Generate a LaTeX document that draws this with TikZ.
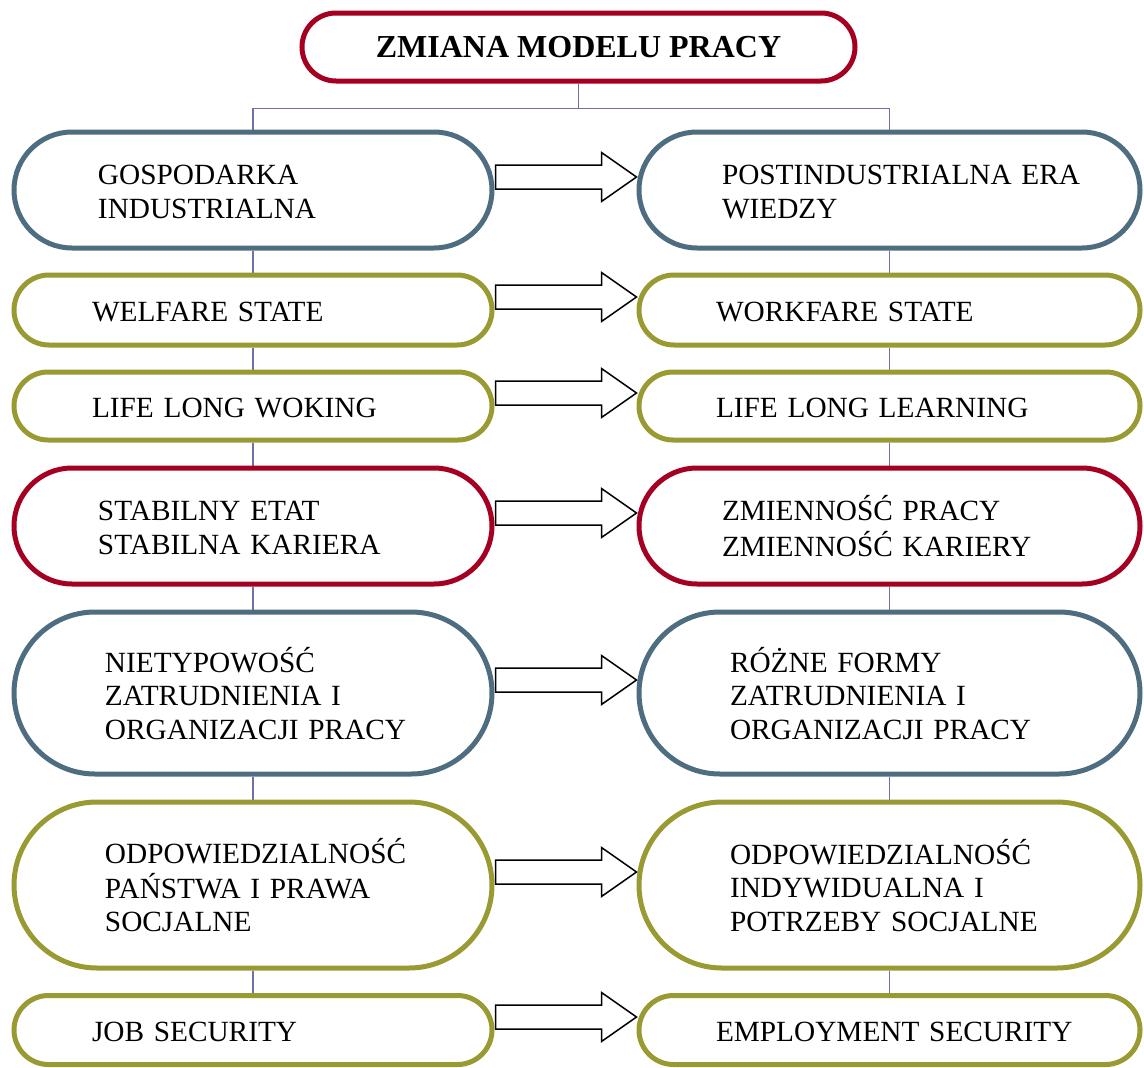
\documentclass[tikz,border=0pt]{standalone}
\usepackage{fontspec}
\setmainfont{Liberation Serif}
\usetikzlibrary{calc,backgrounds}
\definecolor{czerwony}{HTML}{A50021}
\definecolor{niebieski}{HTML}{4E6D80}
\definecolor{oliwka}{HTML}{9A9A33}
\definecolor{linia}{HTML}{6F6FAA}
\tikzset{
    pill/.style={draw, line width=5pt, fill=white, rounded corners=#1pt, minimum height=2*#1pt,
        inner xsep=0pt, inner ysep=0pt, align=left, font=\fontsize{29.3}{33.5}\selectfont},
    lewy/.style={text width=478pt},
    prawy/.style={text width=501pt},
    conn/.style={draw=linia, line width=1.5pt},
    blok/.style={draw=black, line width=1.5pt, fill=white, line join=miter},
}
\newcommand{\wciecie}[2]{\hspace*{#1pt}\raisebox{-5pt}[\height][\depth]{\begin{tabular}[c]{@{}l@{}}#2\end{tabular}}}
\begin{document}
\begin{tikzpicture}[x=1pt, y=-1pt]
\useasboundingbox (0,0) rectangle (1144,1068);
\node[pill=34, draw=czerwony, minimum width=553pt, align=center, font=\fontsize{32}{38}\selectfont\bfseries] (tytul) at (578.5,47) {ZMIANA MODELU PRACY};
% lewa kolumna
\node[pill=58, lewy, draw=niebieski] (l1) at (253,190) {\wciecie{84}{GOSPODARKA\\INDUSTRIALNA}};
\node[pill=35, lewy, draw=oliwka] (l2) at (253,310) {\wciecie{78}{WELFARE STATE}};
\node[pill=34, lewy, draw=oliwka] (l3) at (253,406) {\wciecie{78}{LIFE LONG WOKING}};
\node[pill=58, lewy, draw=czerwony] (l4) at (253,526) {\wciecie{84}{STABILNY ETAT\\STABILNA KARIERA}};
\node[pill=81, lewy, draw=niebieski] (l5) at (253,693) {\wciecie{91}{NIETYPOWOŚĆ\\ZATRUDNIENIA I\\ORGANIZACJI PRACY}};
\node[pill=83, lewy, draw=oliwka] (l6) at (253,885) {\wciecie{91}{ODPOWIEDZIALNOŚĆ\\PAŃSTWA I PRAWA\\SOCJALNE}};
\node[pill=34.5, lewy, draw=oliwka] (l7) at (253,1030) {\wciecie{78}{JOB SECURITY}};
% prawa kolumna
\node[pill=58, prawy, draw=niebieski] (p1) at (889.5,190) {\wciecie{83}{POSTINDUSTRIALNA ERA\\WIEDZY}};
\node[pill=35, prawy, draw=oliwka] (p2) at (889.5,310) {\wciecie{77}{WORKFARE STATE}};
\node[pill=34, prawy, draw=oliwka] (p3) at (889.5,406) {\wciecie{77}{LIFE LONG LEARNING}};
\node[pill=58, prawy, draw=czerwony] (p4) at (889.5,526) {\wciecie{83}{ZMIENNOŚĆ PRACY\\ZMIENNOŚĆ KARIERY}};
\node[pill=81, prawy, draw=niebieski] (p5) at (889.5,693) {\wciecie{91}{RÓŻNE FORMY\\ZATRUDNIENIA I\\ORGANIZACJI PRACY}};
\node[pill=83, prawy, draw=oliwka] (p6) at (889.5,885) {\wciecie{91}{ODPOWIEDZIALNOŚĆ\\INDYWIDUALNA I\\POTRZEBY SOCJALNE}};
\node[pill=34.5, prawy, draw=oliwka] (p7) at (889.5,1030) {\wciecie{77}{EMPLOYMENT SECURITY}};
% linie
\begin{scope}[on background layer]
\coordinate (hub) at ($(tytul.south)+(0,25)$);
\draw[conn] (tytul.south) -- (hub) -| (l1.north);
\draw[conn] (hub) -| (p1.north);
\foreach \a/\b in {1/2,2/3,3/4,4/5,5/6,6/7}
{
    \draw[conn] (l\a.south) -- (l\b.north);
    \draw[conn] (p\a.south) -- (p\b.north);
}
\end{scope}
% strzalki
\foreach \i in {1,...,7}
{
    \draw[blok] ($(l\i.east)+(1,-1)$) -- ($(l\i.east)+(1,-25)$) -- ($(p\i.west)+(-35,-25)$) -- ($(p\i.west)+(-35,-37.5)$)
        -- ($(p\i.west)+(0,-13)$) -- ($(p\i.west)+(-35,11.5)$) -- ($(p\i.west)+(-35,-1)$) -- cycle;
}
\end{tikzpicture}
\end{document}
